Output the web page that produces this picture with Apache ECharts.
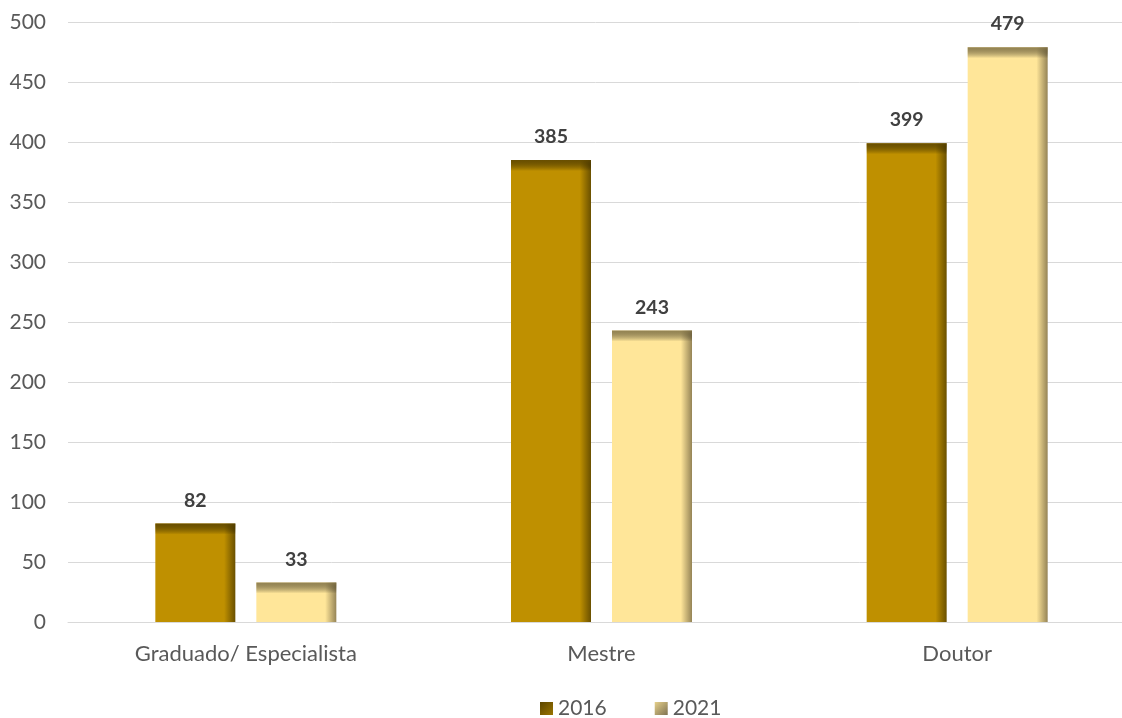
<!DOCTYPE html>
<html><head><meta charset="utf-8">
<script src="https://cdn.jsdelivr.net/npm/echarts@6/dist/echarts.min.js"></script>
<style>html,body{margin:0;padding:0;background:#fff}#c{width:1122px;height:718px}</style>
</head><body><div id="c"></div>
<script>
const categories = ['Graduado/ Especialista', 'Mestre', 'Doutor'];
const values2016 = [82, 385, 399];
const values2021 = [33, 243, 479];
const yTicks = [0, 50, 100, 150, 200, 250, 300, 350, 400, 450, 500];

const chart = echarts.init(document.getElementById('c'));
const font = 'Lato, "Open Sans", sans-serif';
const BAR_W = 80, BAR_GAP = 21;
function grad(main, edge) {
  return new echarts.graphic.LinearGradient(0, 0, 1, 0, [
    {offset: 0, color: main}, {offset: 0.86, color: main}, {offset: 1, color: edge}
  ]);
}
// top bevel overlay for a bar series (side: -1 left bar, +1 right bar)
function bevel(side, dark) {
  return function (params, api) {
    const p = api.coord([api.value(0), api.value(1)]);
    const cx = p[0] + side * (BAR_W + BAR_GAP) / 2;
    return {
      type: 'rect', silent: true,
      shape: {x: cx - BAR_W / 2, y: p[1], width: BAR_W, height: 11},
      style: {fill: new echarts.graphic.LinearGradient(0, 0, 0, 1, [
        {offset: 0, color: dark}, {offset: 1, color: 'rgba(0,0,0,0)'}])}
    };
  };
}
const lbl = {show: true, position: 'top', distance: 13, fontFamily: font, fontWeight: 'bold', fontSize: 19.5, color: '#404040'};
chart.setOption({
  animation: false,
  grid: {left: 68, width: 1067, top: 22, height: 600, outerBoundsMode: 'none', containLabel: false},
  legend: {
    top: 693, left: 535, itemWidth: 13, itemHeight: 13, itemGap: 48,
    textStyle: {fontFamily: font, fontSize: 21, color: '#595959'},
    data: [
      {name: '2016', icon: 'rect', itemStyle: {color: new echarts.graphic.LinearGradient(0,0,1,1,[{offset:0,color:'#5c4600'},{offset:1,color:'#9a7400'}])}},
      {name: '2021', icon: 'rect', itemStyle: {color: new echarts.graphic.LinearGradient(0,0,1,1,[{offset:0,color:'#e6d08a'},{offset:1,color:'#7f7352'}])}}
    ]
  },
  xAxis: {
    type: 'category', data: categories,
    axisLine: {lineStyle: {color: '#d9d9d9', width: 1}},
    axisTick: {show: false},
    axisLabel: {fontFamily: font, fontSize: 22, color: '#595959', margin: 21}
  },
  yAxis: {
    type: 'value', min: 0, max: 500, interval: 50,
    axisLine: {show: false}, axisTick: {show: false},
    splitLine: {lineStyle: {color: '#d9d9d9', width: 1}},
    axisLabel: {fontFamily: font, fontSize: 21, color: '#595959', margin: 22,
      formatter: v => yTicks.includes(v) ? String(v) : ''}
  },
  series: [
    {name: '2016', type: 'bar', data: values2016, barWidth: BAR_W, barGap: (BAR_GAP / BAR_W * 100) + '%',
      itemStyle: {color: grad('#bf9000', '#6a5000')}, label: lbl},
    {name: '2021', type: 'bar', data: values2021, barWidth: BAR_W,
      itemStyle: {color: grad('#ffe699', '#958456')}, label: lbl},
    {name: 'bevel2016', type: 'custom', silent: true, z: 3,
      data: values2016.map((v, i) => [i, v]), renderItem: bevel(-1, 'rgba(90,68,0,0.85)')},
    {name: 'bevel2021', type: 'custom', silent: true, z: 3,
      data: values2021.map((v, i) => [i, v]), renderItem: bevel(1, 'rgba(130,115,70,0.85)')}
  ]
});
</script></body></html>
